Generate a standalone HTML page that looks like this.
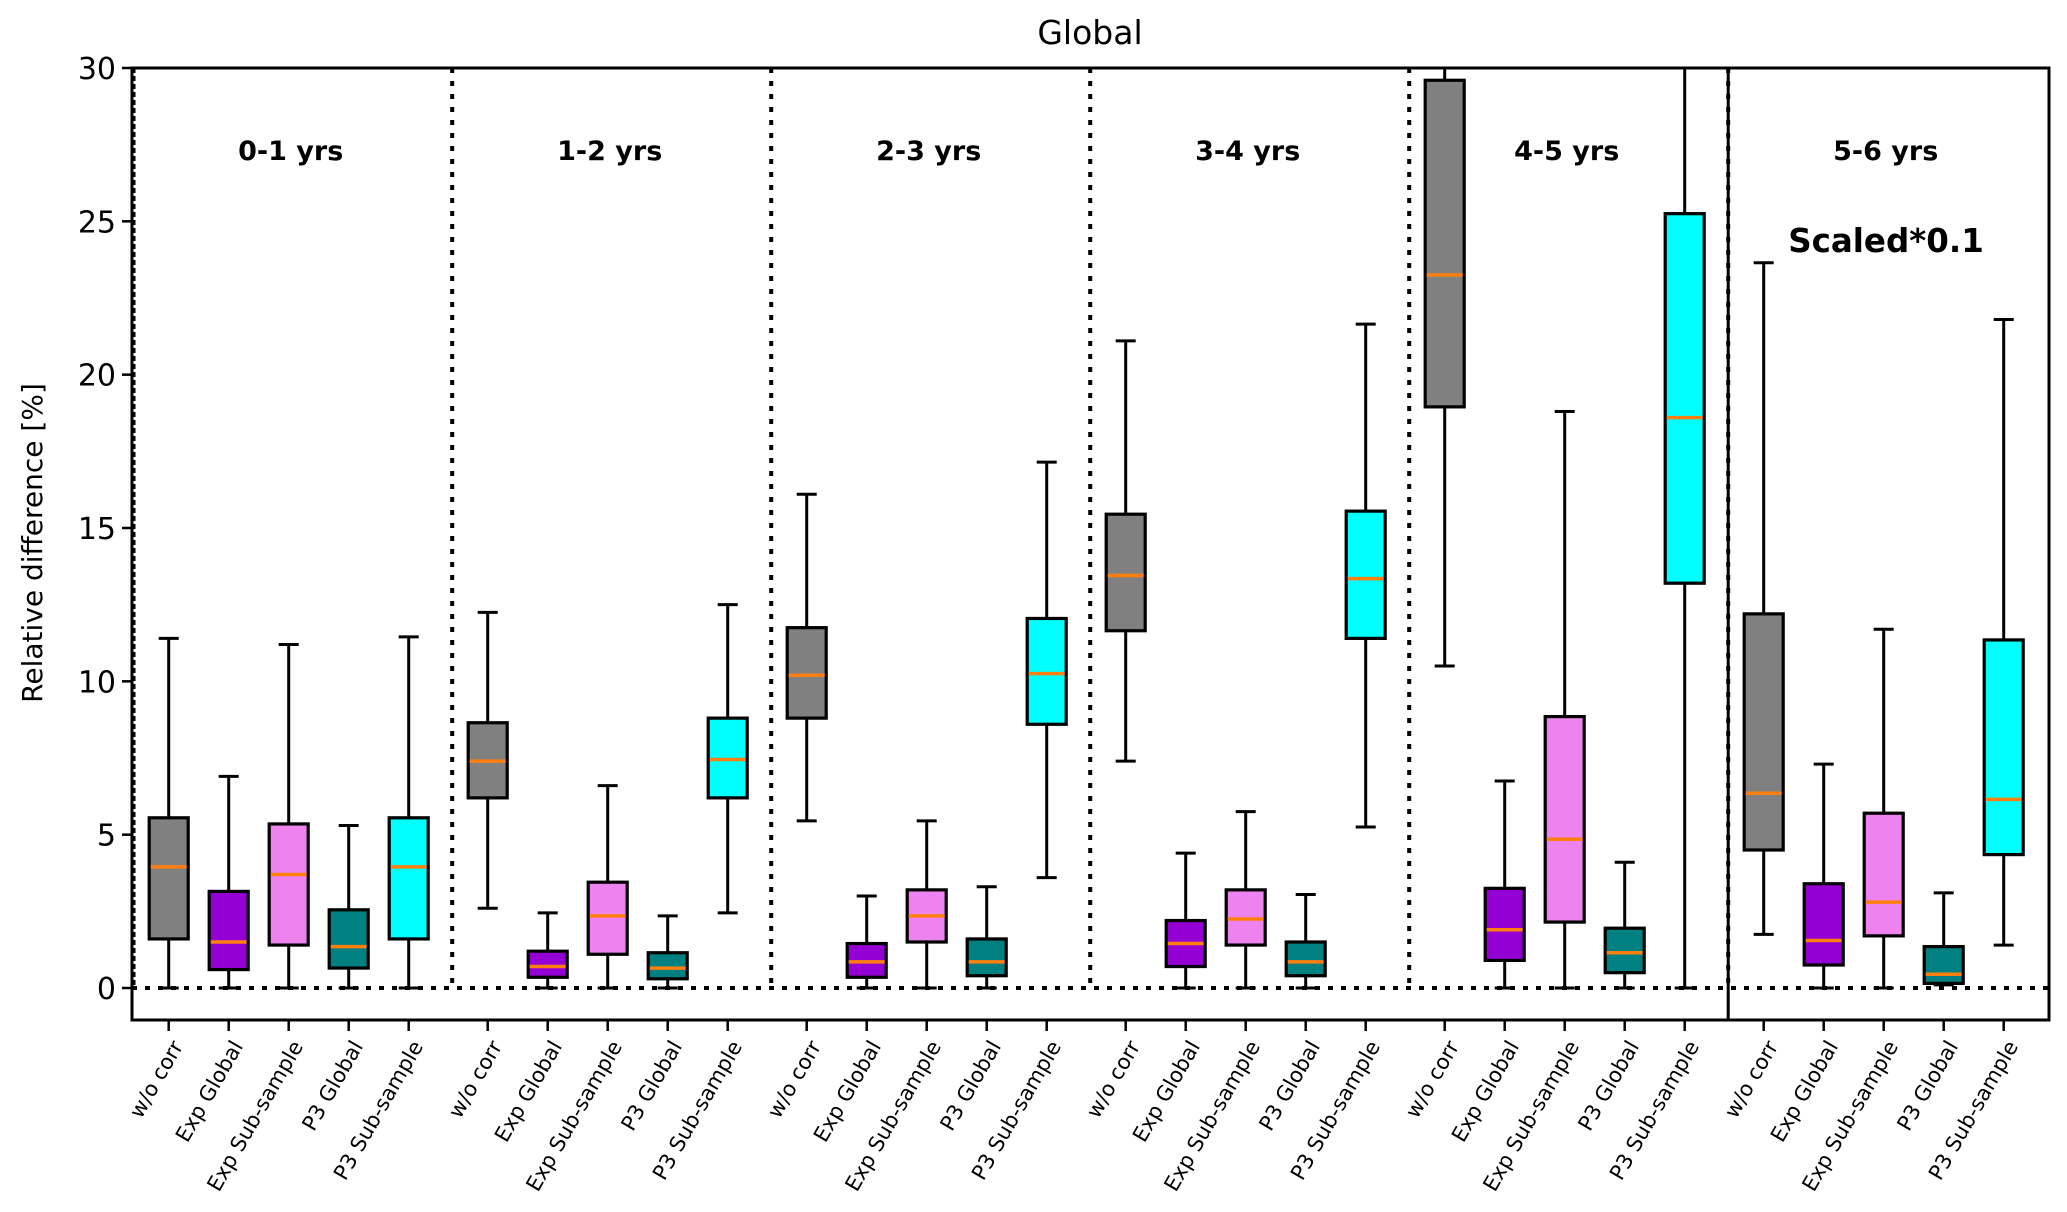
<!DOCTYPE html>
<html><head><meta charset="utf-8"><style>
html,body{margin:0;padding:0;background:#fff;}
svg{display:block;font-family:"DejaVu Sans","Liberation Sans",sans-serif;}
</style></head>
<body>
<svg id="chart" width="2067" height="1212" viewBox="0 0 2067 1212" xmlns="http://www.w3.org/2000/svg">
<text x="1090" y="44" font-size="33" text-anchor="middle">Global</text>
<text x="0" y="0" font-size="28" text-anchor="middle" transform="translate(42,543) rotate(-90)">Relative difference [%]</text>
<g id="plot"></g>
</svg>
<script>
const groups = ["0-1 yrs","1-2 yrs","2-3 yrs","3-4 yrs","4-5 yrs","5-6 yrs"];
const methods = ["w/o corr","Exp Global","Exp Sub-sample","P3 Global","P3 Sub-sample"];
const colors = ["#808080","#9400d3","#ee82ee","#008080","#00ffff"];
const yTicks = [0,5,10,15,20,25,30];
// per box: [whiskerLow, q1, median, q3, whiskerHigh], groups in order, methods in order
const whiskLow = [0,0,0,0,0, 2.6,0,0,0,2.45, 5.45,0,0,0,3.6, 7.4,0,0,0,5.25, 10.5,0,0,0,0, 1.75,0,0,0.1,1.4];
const q1 =      [1.6,0.6,1.4,0.65,1.6, 6.2,0.35,1.1,0.3,6.2, 8.8,0.35,1.5,0.4,8.6, 11.65,0.7,1.4,0.4,11.4, 18.95,0.9,2.15,0.5,13.2, 4.5,0.75,1.7,0.15,4.35];
const medians = [3.95,1.5,3.7,1.35,3.95, 7.4,0.7,2.35,0.65,7.45, 10.2,0.85,2.35,0.85,10.25, 13.45,1.45,2.25,0.85,13.35, 23.25,1.9,4.85,1.15,18.6, 6.35,1.55,2.8,0.45,6.15];
const q3 =      [5.55,3.15,5.35,2.55,5.55, 8.65,1.2,3.45,1.15,8.8, 11.75,1.45,3.2,1.6,12.05, 15.45,2.2,3.2,1.5,15.55, 29.6,3.25,8.85,1.95,25.25, 12.2,3.4,5.7,1.35,11.35];
const whiskHigh = [11.4,6.9,11.2,5.3,11.45, 12.25,2.45,6.6,2.35,12.5, 16.1,3.0,5.45,3.3,17.15, 21.1,4.4,5.75,3.05,21.65, 35,6.75,18.8,4.1,35, 23.65,7.3,11.7,3.1,21.8];

const NS="http://www.w3.org/2000/svg";
const L=132,R=2049,T=68,B=1020,Y0=988;
const pxPerUnit=(Y0-T)/30;
function yScale(v){return Y0-v*pxPerUnit;}
function xScale(g,i){return 168.7+g*319+i*60;}
const plot=document.getElementById('plot');
function mk(tag,attrs,parent){const e=document.createElementNS(NS,tag);for(const k in attrs)e.setAttribute(k,attrs[k]);(parent||plot).appendChild(e);return e;}

const defs=mk('defs',{});
const cp=mk('clipPath',{id:'clip'},defs);
mk('rect',{x:L,y:T,width:R-L,height:B-T},cp);
const inner=mk('g',{'clip-path':'url(#clip)'});

for(let g=1;g<groups.length;g++){
  const sx=(xScale(g-1,4)+xScale(g,0))/2+4;
  const s=mk('line',{x1:sx,x2:sx,y1:T,y2:Y0,stroke:'#000','stroke-width':4,'stroke-dasharray':'5,8'},inner);
  
  
  if(g===groups.length-1){
    const s2=mk('line',{x1:sx,x2:sx,y1:T,y2:B,stroke:'#000','stroke-width':3},inner);
    
    
  }
}
mk('line',{x1:L+2,x2:L+2,y1:T,y2:Y0,stroke:'#000','stroke-width':3,'stroke-dasharray':'5,3'},inner);
const zl=mk('line',{x1:L,x2:R,y1:yScale(0),y2:yScale(0),stroke:'#000','stroke-width':4,'stroke-dasharray':'5,8'},inner);



const bw=39,cw=20;
for(let g=0;g<groups.length;g++){
  for(let i=0;i<methods.length;i++){
    const k=g*5+i, cx=xScale(g,i);
    const bg=mk('g',{},inner);
    
    
    mk('line',{x1:cx,x2:cx,y1:yScale(whiskLow[k]),y2:yScale(q1[k]),stroke:'#000','stroke-width':3},bg);
    mk('line',{x1:cx,x2:cx,y1:yScale(q3[k]),y2:yScale(whiskHigh[k]),stroke:'#000','stroke-width':3},bg);
    mk('line',{x1:cx-cw/2,x2:cx+cw/2,y1:yScale(whiskLow[k]),y2:yScale(whiskLow[k]),stroke:'#000','stroke-width':3},bg);
    mk('line',{x1:cx-cw/2,x2:cx+cw/2,y1:yScale(whiskHigh[k]),y2:yScale(whiskHigh[k]),stroke:'#000','stroke-width':3},bg);
    mk('rect',{x:cx-bw/2,y:yScale(q3[k]),width:bw,height:yScale(q1[k])-yScale(q3[k]),fill:colors[i],stroke:'#000','stroke-width':3.2},bg);
    mk('line',{x1:cx-bw/2+1.5,x2:cx+bw/2-1.5,y1:yScale(medians[k]),y2:yScale(medians[k]),stroke:'#ff7f0e','stroke-width':3.5},bg);
  }
  const gl=mk('text',{x:(xScale(g,0)+xScale(g,4))/2+2,y:160,'font-size':27,'font-weight':'bold','text-anchor':'middle'});
  gl.textContent=groups[g];
  
  
}
const sc=mk('text',{x:1886,y:252,'font-size':32.5,'font-weight':'bold','text-anchor':'middle'});
sc.textContent='Scaled*0.1';



const fr=mk('rect',{x:L,y:T,width:R-L,height:B-T,fill:'none',stroke:'#000','stroke-width':3});



for(const t of yTicks){
  const y=yScale(t);
  mk('line',{x1:L-10,x2:L,y1:y,y2:y,stroke:'#000','stroke-width':2.5});
  const tx=mk('text',{x:L-16,y:y+11,'font-size':30,'text-anchor':'end'});
  tx.textContent=t;
  
  
}
for(let g=0;g<groups.length;g++){
  for(let i=0;i<methods.length;i++){
    const cx=xScale(g,i);
    mk('line',{x1:cx,x2:cx,y1:B,y2:B+11,stroke:'#000','stroke-width':2.5});
    const tx=mk('text',{x:0,y:0,'font-size':21,'text-anchor':'end',transform:`translate(${cx+15},${B+26}) rotate(-60)`});
    tx.textContent=methods[i];
    
    
  }
}
</script>
</body></html>
